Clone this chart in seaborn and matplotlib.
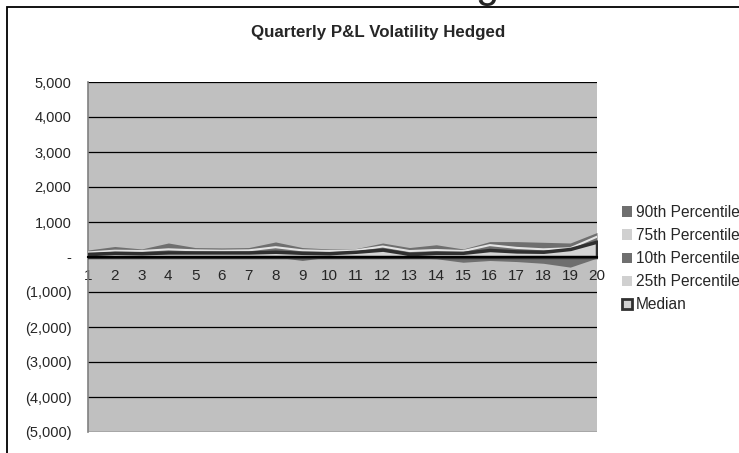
import numpy as np
import pandas as pd
import matplotlib
matplotlib.use("Agg")
import matplotlib.pyplot as plt
import matplotlib.patches as mpatches
import seaborn as sns

quarters = list(range(1, 21))
p90 = [200, 300, 230, 400, 270, 260, 270, 430, 270, 230, 240, 400, 270, 350, 230, 440, 440, 420, 400, 700]
p75 = [130, 180, 170, 220, 190, 180, 190, 280, 190, 170, 190, 300, 170, 200, 170, 340, 260, 220, 250, 580]
p10 = [20, 10, 10, 10, 10, 10, 10, 0, -100, 0, 0, -30, -20, -50, -150, -100, -130, -180, -290, -30]
p25 = [40, 60, 50, 60, 60, 60, 60, 70, 40, 50, 60, 90, 30, 40, 30, 80, 60, 40, 80, 200]
median = [90, 120, 110, 130, 130, 130, 130, 150, 120, 110, 150, 210, 90, 120, 120, 200, 160, 150, 230, 440]
series_names = ["90th Percentile", "75th Percentile", "10th Percentile", "25th Percentile", "Median"]
title = "Quarterly P&L Volatility Hedged"
yticks = [5000, 4000, 3000, 2000, 1000, 0, -1000, -2000, -3000, -4000, -5000]

sns.set_style("white")
plt.rcParams["font.family"] = ["Liberation Sans", "DejaVu Sans"]

df = pd.DataFrame({"q": quarters, "p90": p90, "p75": p75, "p10": p10, "p25": p25, "median": median})

W, H = 739, 453
fig = plt.figure(figsize=(W / 100, H / 100), dpi=100)
ax = fig.add_axes([88 / W, 1 - 432 / H, (597 - 88) / W, (432 - 82) / H])

dark = "#6F6F6F"
bg = "#C0C0C0"
light = "#D4D4D4"
ax.set_facecolor(bg)

ax.fill_between(df["q"], 0, df["p90"], color=dark, lw=0, zorder=2)
ax.fill_between(df["q"], 0, df["p10"], color=dark, lw=0, zorder=2)
ax.fill_between(df["q"], 0, df["p25"], color=light, lw=0, zorder=3)
sns.lineplot(data=df, x="q", y="p75", ax=ax, color="#E4E4E4", lw=1.5, zorder=4)
ax.fill_between(df["q"], 0, df["median"], facecolor=light, edgecolor="#303030", lw=2.5, zorder=5)

ax.set_xlim(1, 20)
ax.set_ylim(-5000, 5000)
ax.set_yticks(yticks)
def fmt(v):
    if v == 0:
        return "-"
    if v < 0:
        return f"({-v:,})"
    return f"{v:,}"
ax.set_yticklabels([fmt(v) for v in yticks])
ax.set_xticks(quarters)
ax.set_xticklabels([str(q) for q in quarters])
ax.set_xlabel("")
ax.set_ylabel("")

for v in yticks:
    if v != 0:
        ax.axhline(v, color="black", lw=0.9, zorder=1)

for s in ["top", "right"]:
    ax.spines[s].set_visible(False)
ax.spines["left"].set_color("#808080")
ax.spines["left"].set_linewidth(1.2)
ax.spines["bottom"].set_position(("data", 0))
ax.spines["bottom"].set_color("black")
ax.spines["bottom"].set_linewidth(1.5)
ax.spines["bottom"].set_zorder(6)
ax.tick_params(axis="y", direction="out", length=5, width=1, color="black", pad=7, labelsize=10.5)
ax.tick_params(axis="x", direction="out", length=4, width=1, color="black", pad=5, labelsize=11)
ax.grid(False)

fig.text(378 / W, 1 - 32 / H, title, ha="center", va="center", fontsize=12.2, fontweight="bold")
fig.text(487 / W, 1 + 3 / H, "g", ha="center", va="baseline", fontsize=30)

frame = mpatches.Rectangle((7 / W, -0.2), 1.2, 1 - 7 / H + 0.2, transform=fig.transFigure,
                           fill=False, edgecolor="black", lw=1.3)
fig.patches.append(frame)

handles = [
    mpatches.Patch(facecolor=dark, edgecolor="none"),
    mpatches.Patch(facecolor="#D0D0D0", edgecolor="none"),
    mpatches.Patch(facecolor=dark, edgecolor="none"),
    mpatches.Patch(facecolor="#D0D0D0", edgecolor="none"),
    mpatches.Patch(facecolor="#D0D0D0", edgecolor="#303030", lw=2),
]
fig.legend(handles, series_names, loc="upper left", bbox_to_anchor=(622 / W, 1 - 205 / H),
           frameon=False, fontsize=11.2, handlelength=0.65, handleheight=0.65,
           handletextpad=0.25, labelspacing=0.52, borderaxespad=0, borderpad=0)

fig.savefig("out.png", dpi=100)
